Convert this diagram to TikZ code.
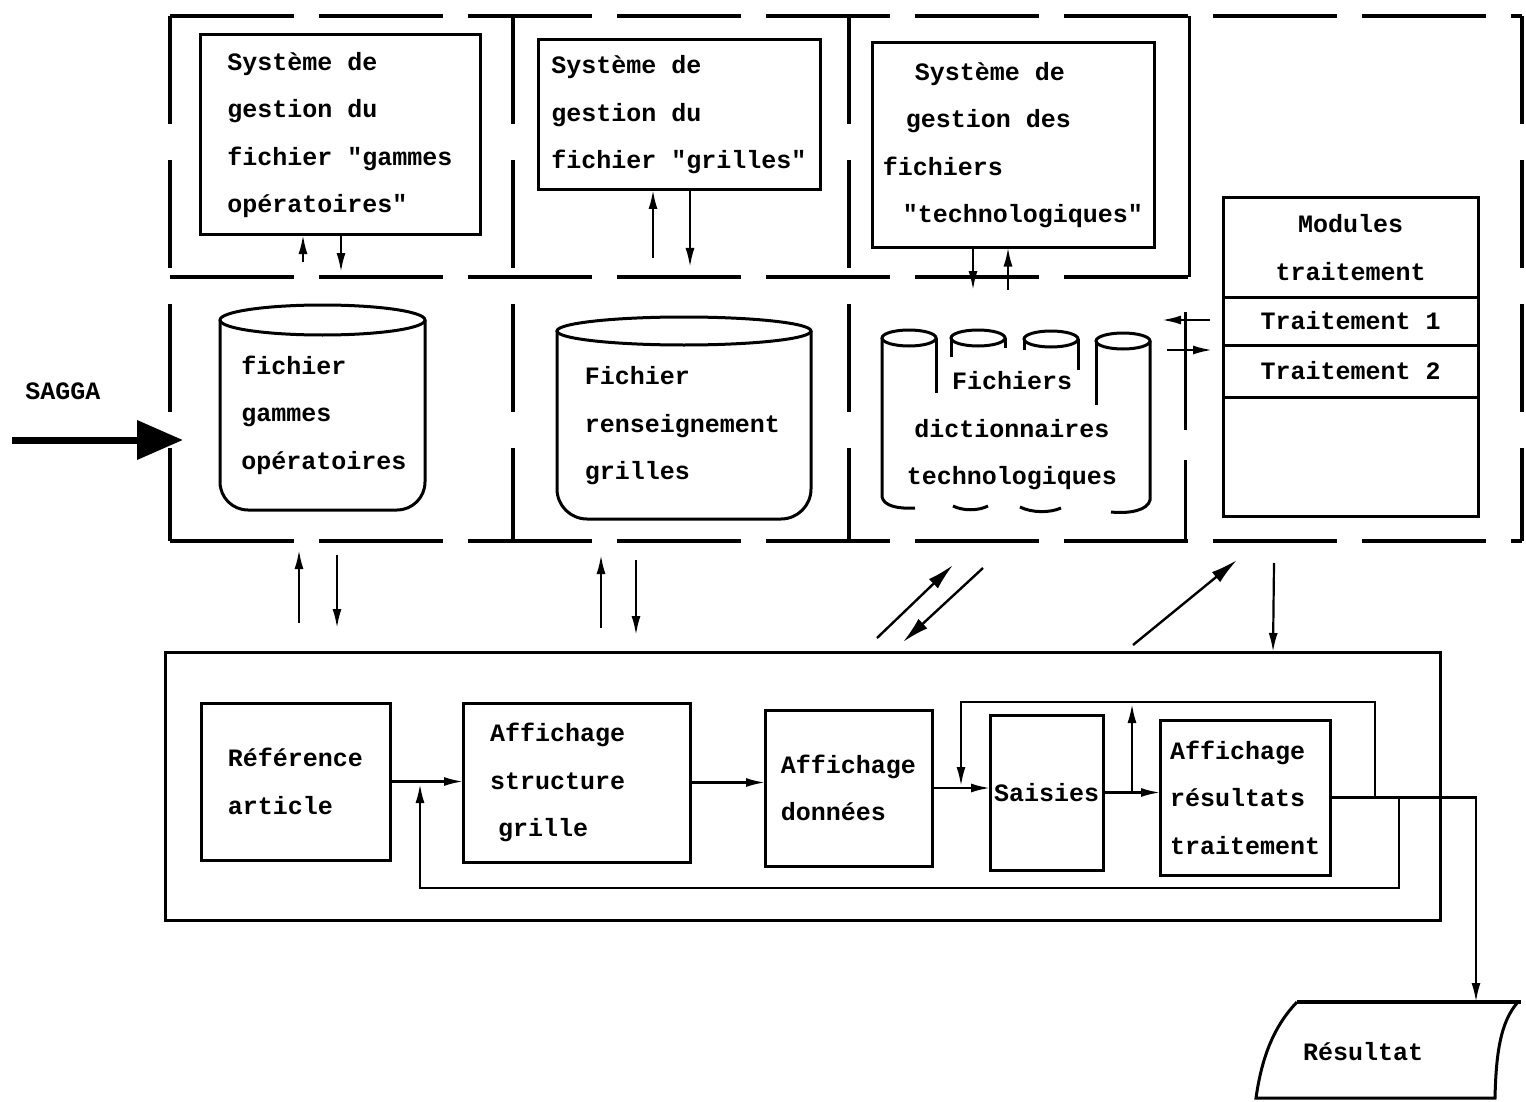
\documentclass[tikz,border=0pt]{standalone}
\usepackage{fontspec}
\setmainfont{Liberation Mono}[Ligatures=TeXOff]
\usetikzlibrary{arrows.meta, positioning}

\begin{document}
\begin{tikzpicture}[
    x=1pt, y=-1pt,
    >=Latex,
    txt/.style={font=\bfseries\fontsize{25pt}{47.5pt}\selectfont},
    box/.style={rectangle, draw, line width=3pt, inner sep=0pt, outer sep=0pt, align=left, txt},
    lbl/.style={inner sep=0pt, align=left, txt},
    shp/.style={line width=3pt},
    frame/.style={line width=3.5pt, dash pattern=on 124pt off 25pt},
    vframe/.style={line width=3.5pt, dash pattern=on 108pt off 36pt},
    arr/.style={-{Latex[length=19pt,width=9pt]}, line width=2.2pt},
    darr/.style={-{Latex[length=27pt,width=13pt]}, line width=2.4pt},
    bigarr/.style={-{Triangle[length=46pt,width=38pt]}, line width=7pt}
]
\useasboundingbox (0,0) rectangle (1526,1102);

% Dashed frame round the files and their managers
\coordinate (fNW) at (170,16);
\coordinate (fNE) at (1522,16);
\coordinate (fSW) at (170,541);
\coordinate (fSE) at (1522,541);
\draw[frame] (fNW) -- (fNE);
\draw[frame] (fSW) -- (fSE);
\draw[vframe] (fNW) -- (fSW);
\draw[vframe] (fNE) -- (fSE);
\draw[frame] (170,277) -- (1189,277);
\draw[vframe] (513,16) -- (513,541);
\draw[vframe] (849,16) -- (849,541);
\draw[line width=3pt] (1189,16) -- (1189,277);
\draw[line width=3pt, dash pattern=on 118pt off 30pt] (1185,312) -- (1185,541);

% Top row: file management systems
\node[box, minimum width=280pt, minimum height=200pt] (sgGam) at (340,135) {Système de\\gestion du\\fichier "gammes\\opératoires"};
\node[box, minimum width=282pt, minimum height=150pt] (sgGri) at (679,115) {Système de\\gestion du\\fichier "grilles"};
\node[box, minimum width=282pt, minimum height=205pt] (sgTech) at (1013,145) {\hspace*{32pt}Système de\\\hspace*{23pt}gestion des\\fichiers\\\hspace*{20pt}"technologiques"};

% Processing modules, stacked
\node[box, align=center, minimum width=255pt, minimum height=99pt] (modHead) at (1350.5,247.5) {Modules\\traitement};
\node[box, align=center, minimum width=255pt, minimum height=48pt, below=0pt of modHead] (trt1) {Traitement 1};
\node[box, align=center, minimum width=255pt, minimum height=52pt, below=0pt of trt1] (trt2) {Traitement 2};
\node[box, minimum width=255pt, minimum height=119pt, below=0pt of trt2] (modRest) {};

% Middle row: the files (cylinders)
\draw[shp] (322.5,320) ellipse [x radius=102.5pt, y radius=15pt];
\draw[shp, rounded corners=28pt] (220,320) -- (220,510) -- (425,510) -- (425,320);
\node[lbl] (cylGam) at (324,415) {fichier\\gammes\\opératoires};

\draw[shp] (684,331) ellipse [x radius=127pt, y radius=14pt];
\draw[shp, rounded corners=30pt] (557,331) -- (557,519) -- (811,519) -- (811,331);
\node[lbl] (cylRens) at (682.5,426) {Fichier\\renseignement\\grilles};

% four small cylinders side by side
\foreach \cx/\cy in {909/338, 978/338, 1051/339, 1123/341}
  \draw[shp] (\cx,\cy) ellipse [x radius=27pt, y radius=8pt];
\draw[shp] (882,338) -- (882,497) .. controls (884,506) and (898,509) .. (915,508);
\draw[shp] (953,506) .. controls (963,511) and (978,511) .. (988,506);
\draw[shp] (1020,507) .. controls (1032,513) and (1050,513) .. (1061,508);
\draw[shp] (1111,512) .. controls (1130,514) and (1148,510) .. (1150,500) -- (1150,341);
\draw[shp] (936,338) -- (936,393);
\draw[shp] (951,338) -- (951,357);
\draw[shp] (1005,338) -- (1005,348);
\draw[shp] (1024,339) -- (1024,350);
\draw[shp] (1078,339) -- (1078,370);
\draw[shp] (1096,341) -- (1096,405);
\node[lbl, align=center] (cylTech) at (1012,431) {Fichiers\\dictionnaires\\technologiques};

% Input
\node[lbl] (sagga) at (63,391) {SAGGA};
\coordinate (sagS) at (12,440);
\coordinate (sagE) at (183,440);
\draw[bigarr] (sagS) -- (sagE);

% Bottom: application box
\node[box, minimum width=1275pt, minimum height=268pt] (appli) at (802.5,786) {};
\node[box, minimum width=189pt, minimum height=157pt] (ref) at (295.5,781.5) {Référence\\article};
\node[box, minimum width=227pt, minimum height=159pt, text width=173pt] (affStr) at (576.5,782.5) {Affichage\\structure\\\hspace*{8pt}grille};
\node[box, minimum width=167pt, minimum height=156pt] (affDon) at (848.5,788) {Affichage\\données};
\node[box, minimum width=113pt, minimum height=155pt] (saisies) at (1046.5,792.5) {Saisies};
\node[box, minimum width=170pt, minimum height=155pt] (affRes) at (1245,797.5) {Affichage\\résultats\\traitement};

% Output document
\draw[shp] (1297,1002) .. controls (1275,1025) and (1262,1055) .. (1256,1098) -- (1495,1098) .. controls (1496,1055) and (1500,1022) .. (1518,1002);
\draw[line width=4.5pt] (1297,1002) -- (1521,1002);
\node[lbl] (result) at (1363,1052) {Résultat};

% ---- ARROWS ----
% systems <-> files
\coordinate (gamUp) at (303,262);
\coordinate (gamDn) at (341,272);
\coordinate (griUp) at (653,258);
\coordinate (griDn) at (690,267);
\coordinate (techDn) at (973,290);
\coordinate (techUp) at (1008,290);
\draw[arr] (gamUp) -- (gamUp |- sgGam.south);
\draw[arr] (gamDn |- sgGam.south) -- (gamDn);
\draw[arr] (griUp) -- (griUp |- sgGri.south);
\draw[arr] (griDn |- sgGri.south) -- (griDn);
\draw[arr] (techDn |- sgTech.south) -- (techDn);
\draw[arr] (techUp) -- (techUp |- sgTech.south);

% files <-> processing modules
\coordinate (tr1S) at (1210,320);
\coordinate (tr1E) at (1162,320);
\coordinate (tr2S) at (1167,350);
\coordinate (tr2E) at (1212,350);
\draw[arr] (tr1S) -- (tr1E);
\draw[arr] (tr2S) -- (tr2E);

% frame <-> application
\coordinate (gA) at (299,623);
\coordinate (gB) at (299,550);
\coordinate (gC) at (337,555);
\coordinate (gD) at (337,628);
\coordinate (rA) at (601,628);
\coordinate (rB) at (601,555);
\coordinate (rC) at (636,560);
\coordinate (rD) at (636,635);
\coordinate (tA) at (877,638);
\coordinate (tB) at (953,565);
\coordinate (tC) at (983,568);
\coordinate (tD) at (903,642);
\coordinate (mA) at (1133,645);
\coordinate (mB) at (1237,560);
\coordinate (mC) at (1274,563);
\coordinate (mD) at (1273,652);
\draw[arr] (gA) -- (gB);
\draw[arr] (gC) -- (gD);
\draw[arr] (rA) -- (rB);
\draw[arr] (rC) -- (rD);
\draw[darr] (tA) -- (tB);
\draw[darr] (tC) -- (tD);
\draw[darr] (mA) -- (mB);
\draw[arr] (mC) -- (mD);

% chain inside the application
\draw[arr] (ref.east) -- (ref.east -| affStr.west);
\draw[arr] (affStr.east) -- (affStr.east -| affDon.west);
\draw[arr] (affDon.east) -- (affDon.east -| saisies.west);
\draw[arr] (saisies.east) -- (saisies.east -| affRes.west);

% output and feedback loops
\coordinate (resTop) at (1476,1002);
\coordinate (fbLow) at (1399,888);
\coordinate (fbEnd) at (420,784);
\coordinate (fbUp) at (1375,702);
\coordinate (fbUpEnd) at (961,786);
\coordinate (brUp) at (1132,704);
\draw[arr] (affRes.east) -| (resTop);
\draw[arr] (affRes.east -| fbLow) -- (fbLow) -| (fbEnd);
\draw[arr] (affRes.east -| fbUp) -- (fbUp) -| (fbUpEnd);
\draw[arr] (saisies.east -| brUp) -- (brUp);

\end{tikzpicture}
\end{document}
